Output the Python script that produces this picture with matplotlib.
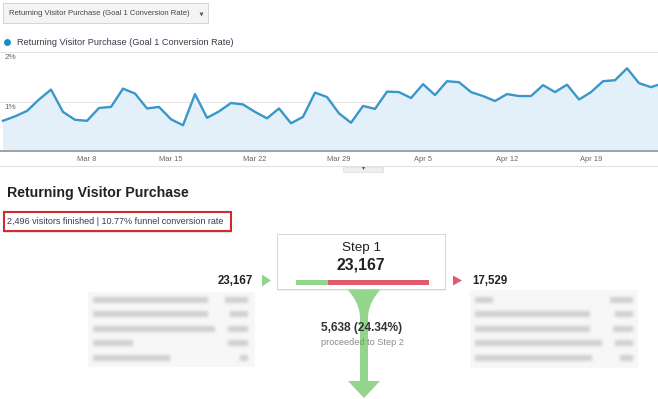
import numpy as np
import matplotlib
matplotlib.use("Agg")
import matplotlib.pyplot as plt
import matplotlib.dates as mdates
import matplotlib.transforms as mtransforms
from matplotlib.patches import Rectangle, Polygon
from matplotlib.collections import PatchCollection
from matplotlib.colors import to_rgb

plt.rcParams['font.family'] = ['Liberation Sans', 'DejaVu Sans']

# ---------------- data ----------------
metric_name = "Returning Visitor Purchase (Goal 1 Conversion Rate)"
goal_name = "Returning Visitor Purchase"
start_date = "2015-03-01"
conv_rate = [0.61, 0.70, 0.81, 1.04, 1.24, 0.79, 0.63, 0.61, 0.87, 0.89,
             1.26, 1.16, 0.86, 0.89, 0.64, 0.52, 1.15, 0.67, 0.80, 0.97,
             0.94, 0.79, 0.66, 0.86, 0.56, 0.69, 1.18, 1.09, 0.76, 0.57,
             0.91, 0.85, 1.20, 1.19, 1.07, 1.35, 1.13, 1.41, 1.39, 1.19,
             1.11, 1.01, 1.15, 1.11, 1.11, 1.33, 1.19, 1.34, 1.04, 1.19,
             1.41, 1.43, 1.67, 1.37, 1.29, 1.37]
tick_dates = ["2015-03-08", "2015-03-15", "2015-03-22", "2015-03-29",
              "2015-04-05", "2015-04-12", "2015-04-19"]
tick_labels = ["Mar 8", "Mar 15", "Mar 22", "Mar 29", "Apr 5", "Apr 12", "Apr 19"]
y_ticks = [1, 2]

finished = "2,496"
funnel_rate = "10.77%"
step_label = "Step 1"
step_visitors = 23167
entrances = 23167
exits = 17529
proceeded = 5638
proceeded_pct = 24.34

# blurred referrer / exit tables (bar widths of the unreadable entries)
left_names_w = [115, 115, 122, 40, 77]
left_vals_w = [23, 18, 20, 20, 8]
right_names_w = [18, 115, 115, 127, 117]
right_vals_w = [23, 18, 20, 18, 13]

# ---------------- colours ----------------
LINE = "#3a97c9"
FILL = "#e4f0f9"
GREEN = "#93d58c"
RED = "#e05b6f"
DARK = "#222222"

W, H = 658, 399
fig = plt.figure(figsize=(W / 100, H / 100), dpi=100)
fig.patch.set_facecolor("white")

# ---------------- line chart ----------------
dates = np.arange(np.datetime64(start_date), np.datetime64(start_date) + len(conv_rate), dtype="datetime64[D]")
xd = mdates.date2num(dates)
ax_top, ax_bot = 52, 151
ax = fig.add_axes([0, 1 - ax_bot / H, 1, (ax_bot - ax_top) / H])
ax.fill_between(xd, 0, conv_rate, color=FILL, lw=0, zorder=1)
ax.plot(xd, conv_rate, color=LINE, lw=1.7, zorder=3)
ax.set_ylim(0, 2)
ax.set_xlim(xd[0] - 0.25, xd[0] + 54.58)
for s in ["top", "left", "right"]:
    ax.spines[s].set_visible(False)
ax.spines["bottom"].set_color("#9a9a9a")
ax.spines["bottom"].set_linewidth(1.3)
ax.set_yticks([])
ax.set_xticks(mdates.date2num(np.array(tick_dates, dtype="datetime64[D]")))
ax.set_xticklabels(tick_labels)
ax.tick_params(axis="x", length=0, pad=3.5, labelsize=5.4, labelcolor="#666666")
for v in y_ticks:
    ax.axhline(v, color="#e6e6e6", lw=0.8, zorder=0)
    tr = mtransforms.offset_copy(ax.get_yaxis_transform(), fig=fig, x=0, y=-1.5, units="points")
    ax.text(0.007, v, f"{v}%", transform=tr, ha="left", va="top", fontsize=5.9, color="#666666")

# ---------------- overlay (pixel coordinates) ----------------
ov = fig.add_axes([0, 0, 1, 1])
ov.set_xlim(0, W)
ov.set_ylim(H, 0)
ov.axis("off")
ov.patch.set_visible(False)

# dropdown
ov.add_patch(Rectangle((3, 3), 205, 20, facecolor="#f4f4f4", edgecolor="#d4d4d4", lw=0.7))
ov.text(9, 13.5, metric_name, fontsize=5.5, color="#444444", va="center", ha="left")
ov.plot([200.5], [13.5], marker="v", ms=2.8, color="#555555", mew=0)

# legend
ov.plot([7], [42], marker="o", ms=5, color="#1a8ad0", mew=0)
ov.text(17, 42.5, metric_name, fontsize=6.55, color="#3a3a4a", va="center", ha="left")

# chart bottom line and handle
ov.plot([0, W], [166, 166], color="#e2e2e2", lw=0.8)
ov.add_patch(Rectangle((343, 166.5), 40, 5, facecolor="#eeeeee", edgecolor="#dddddd", lw=0.5))
ov.plot([362.5], [168.3], marker="v", ms=2.2, color="#555555", mew=0)

# title
ov.text(7, 196.5, goal_name, fontsize=10.2, fontweight="bold", color=DARK, va="baseline", ha="left")

# red highlighted summary
ov.add_patch(Rectangle((5, 213.5), 227, 19, facecolor="#bbbbbb", edgecolor="none", alpha=0.35))
ov.add_patch(Rectangle((4, 212), 227, 19, facecolor="white", edgecolor="#d42a2f", lw=1.5))
ov.text(7, 222, f"{finished} visitors finished | {funnel_rate} funnel conversion rate",
        fontsize=6.5, color="#3b3b55", va="center", ha="left")

# step box
bx0, bx1, by0, by1 = 277, 445, 234, 289
ov.add_patch(Rectangle((bx0 + 1, by0 + 1.5), bx1 - bx0, by1 - by0, facecolor="#eeeeee", edgecolor="none"))
ov.add_patch(Rectangle((bx0, by0), bx1 - bx0, by1 - by0, facecolor="white", edgecolor="#d6d6d6", lw=0.7))
cx = (bx0 + bx1) / 2
ov.text(cx, 248.5, step_label, fontsize=9.7, color=DARK, ha="center", va="center")
ov.text(cx, 264.5, f"{step_visitors:,}", fontsize=11.3, fontweight="bold", color=DARK, ha="center", va="center")
bar_x0, bar_x1, bar_y = 296, 429, 282
gw = (bar_x1 - bar_x0) * proceeded / step_visitors
ov.add_patch(Rectangle((bar_x0, bar_y - 2.5), gw, 5, facecolor=GREEN, edgecolor="none"))
ov.add_patch(Rectangle((bar_x0 + gw, bar_y - 2.5), (bar_x1 - bar_x0) - gw, 5, facecolor=RED, edgecolor="none"))

# entrances / exits
ov.text(253, 280.5, f"{entrances:,}", fontsize=8.3, fontweight="bold", color=DARK, ha="right", va="center")
ov.add_patch(Polygon([[262, 274.5], [271, 280.5], [262, 286.5]], closed=True, facecolor=GREEN, edgecolor="none"))
ov.add_patch(Polygon([[453, 275.5], [462, 280.5], [453, 285.5]], closed=True, facecolor=RED, edgecolor="none"))
ov.text(472, 280.5, f"{exits:,}", fontsize=8.3, fontweight="bold", color=DARK, ha="left", va="center")

# funnel arrow
fc = 364
t = np.linspace(0, 1, 40)
yy = 289.5 + 28.5 * t
hw = 4 + 12.5 * (1 - t) ** 2
stem_bottom = 381
arrow = np.vstack([
    np.column_stack([fc - hw, yy]),
    [[fc - 4, stem_bottom], [fc - 16, stem_bottom], [fc, 398], [fc + 16, stem_bottom], [fc + 4, stem_bottom]],
    np.column_stack([fc + hw, yy])[::-1],
])
ov.add_patch(Polygon(arrow, closed=True, facecolor=GREEN, edgecolor="none", zorder=2))
ov.text(362, 328.5, f"{proceeded:,} ({proceeded_pct:.2f}%)", fontsize=8.6, fontweight="bold",
        color="#333333", ha="center", va="center", zorder=5)
ov.text(362, 342.5, "proceeded to Step 2", fontsize=6.6, color="#8a8a8a", ha="center", va="center", zorder=5)


# blurred tables: blur only the alpha channel, keep a flat colour
def blur(sigma, color):
    r = int(3 * sigma)
    xs = np.arange(-r, r + 1)
    k = np.exp(-xs ** 2 / (2 * sigma ** 2))
    k /= k.sum()
    rgb = np.array(to_rgb(color))

    def f(im, dpi):
        h, w, c = im.shape
        a = np.zeros((h + 2 * r, w + 2 * r), dtype=float)
        a[r:r + h, r:r + w] = im[..., 3]
        tmp = np.zeros_like(a)
        for i, kv in enumerate(k):
            tmp += kv * np.roll(a, i - r, axis=0)
        res_a = np.zeros_like(a)
        for i, kv in enumerate(k):
            res_a += kv * np.roll(tmp, i - r, axis=1)
        out = np.empty((h + 2 * r, w + 2 * r, 4), dtype=float)
        out[..., :3] = rgb
        out[..., 3] = np.clip(res_a, 0, 1)
        return out, -r, -r
    return f


ov.add_patch(Rectangle((88, 292), 167, 75, facecolor="#f7f7f7", edgecolor="none", zorder=1))
ov.add_patch(Rectangle((470, 290), 168, 78, facecolor="#f7f7f7", edgecolor="none", zorder=1))
rows_left = [300, 314, 328.5, 343, 357.5]
rows_right = [300, 314, 329, 343, 358]
blobs = []
for y, nw, vw in zip(rows_left, left_names_w, left_vals_w):
    blobs.append(Rectangle((93, y - 3), nw, 6))
    blobs.append(Rectangle((248 - vw, y - 3), vw, 6))
for y, nw, vw in zip(rows_right, right_names_w, right_vals_w):
    blobs.append(Rectangle((475, y - 3), nw, 6))
    blobs.append(Rectangle((633 - vw, y - 3), vw, 6))
pc = PatchCollection(blobs, facecolor="#d0d0d0", edgecolor="none", zorder=2)
pc.set_agg_filter(blur(1.6, "#d0d0d0"))
ov.add_collection(pc)

fig.savefig("out.png", dpi=100)
